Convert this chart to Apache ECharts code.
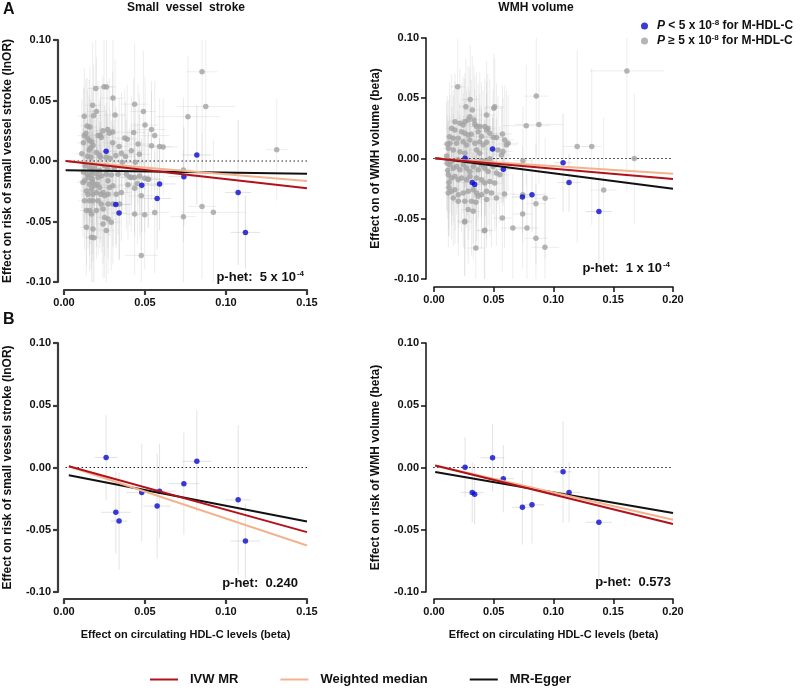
<!DOCTYPE html>
<html><head><meta charset="utf-8">
<script src="https://cdn.jsdelivr.net/npm/echarts@6/dist/echarts.min.js"></script>
<style>html,body{margin:0;padding:0;background:#fff}#c{width:800px;height:688px}</style>
</head><body><div id="c"></div>
<script>
// ---------- DATA: [x, y, xErr, yErr] ----------
const svsGray = [
[0.0196,0.060,0.005,0.045],[0.0247,0.0614,0.006,0.050],[0.0262,0.0612,0.006,0.040],[0.0302,0.052,0.007,0.048],
[0.0177,0.046,0.005,0.052],[0.0200,0.041,0.005,0.045],[0.0436,0.047,0.008,0.050],[0.0125,0.037,0.004,0.040],
[0.0183,0.0375,0.005,0.042],[0.0315,0.038,0.007,0.046],[0.0490,0.041,0.008,0.050],[0.0500,0.0297,0.008,0.040],
[0.0430,0.0236,0.007,0.045],[0.0540,0.026,0.009,0.040],[0.0560,0.021,0.009,0.045],[0.0590,0.012,0.008,0.040],
[0.0612,0.0115,0.009,0.040],[0.0540,0.0126,0.008,0.045],[0.0457,0.014,0.007,0.050],[0.0465,0.0055,0.007,0.050],
[0.0416,0.0085,0.007,0.045],[0.0375,0.019,0.006,0.040],[0.0390,0.018,0.006,0.045],[0.0240,0.025,0.005,0.045],
[0.0270,0.026,0.005,0.040],[0.0300,0.024,0.006,0.050],[0.0280,0.023,0.005,0.045],[0.0230,0.0195,0.005,0.040],
[0.0125,0.021,0.004,0.040],[0.0135,0.023,0.004,0.045],[0.0145,0.019,0.004,0.040],[0.0155,0.017,0.004,0.050],
[0.0120,0.015,0.004,0.045],[0.0142,0.029,0.004,0.040],[0.0160,0.028,0.004,0.050],[0.0210,0.021,0.005,0.045],
[0.0225,0.0215,0.005,0.040],[0.0170,0.016,0.004,0.045],[0.0180,0.013,0.005,0.050],[0.0165,0.011,0.004,0.040],
[0.0155,0.009,0.004,0.045],[0.0200,0.007,0.005,0.040],[0.0220,0.005,0.005,0.045],[0.0225,0.003,0.005,0.050],
[0.0165,0.003,0.004,0.045],[0.0145,0.004,0.004,0.040],[0.0110,0.006,0.004,0.045],[0.0300,0.015,0.006,0.045],
[0.0340,0.012,0.006,0.040],[0.0355,0.0065,0.006,0.050],[0.0380,0.0038,0.006,0.045],[0.0320,0.0045,0.006,0.040],
[0.0260,0.003,0.005,0.045],[0.0285,0.002,0.005,0.040],[0.0440,-0.001,0.007,0.045],[0.0360,-0.001,0.006,0.040],
[0.0160,-0.0055,0.004,0.045],[0.0175,-0.0082,0.004,0.050],[0.0189,-0.006,0.005,0.040],[0.0144,-0.011,0.004,0.045],
[0.0169,-0.0115,0.004,0.050],[0.0200,-0.0104,0.005,0.040],[0.0148,-0.0137,0.004,0.045],[0.0175,-0.0151,0.004,0.040],
[0.0210,-0.0137,0.005,0.050],[0.0230,-0.0123,0.005,0.045],[0.0261,-0.011,0.005,0.040],[0.0292,-0.0115,0.006,0.045],
[0.0333,-0.011,0.006,0.050],[0.0385,-0.011,0.006,0.045],[0.0405,-0.0132,0.007,0.040],[0.0436,-0.0137,0.007,0.045],
[0.0467,-0.0123,0.007,0.050],[0.0498,-0.0142,0.008,0.045],[0.0522,-0.0151,0.008,0.040],
[0.0130,-0.004,0.004,0.045],[0.0250,-0.004,0.005,0.050],[0.0310,-0.006,0.006,0.040],[0.0120,-0.009,0.004,0.045],
[0.0220,-0.008,0.005,0.040],[0.0270,-0.007,0.005,0.045],
[0.0117,-0.0178,0.004,0.045],[0.0127,-0.0164,0.004,0.040],[0.0158,-0.0192,0.004,0.050],[0.0179,-0.0178,0.004,0.045],
[0.0189,-0.0205,0.005,0.040],[0.0206,-0.0192,0.005,0.045],[0.0220,-0.0219,0.005,0.050],[0.0169,-0.0233,0.004,0.045],
[0.0138,-0.0247,0.004,0.040],[0.0148,-0.0274,0.004,0.045],[0.0179,-0.0274,0.004,0.050],[0.0200,-0.026,0.005,0.045],
[0.0226,-0.0274,0.005,0.040],[0.0241,-0.026,0.005,0.045],[0.0251,-0.0288,0.005,0.050],[0.0272,-0.0274,0.005,0.045],
[0.0282,-0.0219,0.006,0.040],[0.0272,-0.0164,0.005,0.045],[0.0302,-0.0205,0.006,0.050],[0.0323,-0.0274,0.006,0.045],
[0.0354,-0.026,0.006,0.040],[0.0343,-0.0356,0.006,0.045],[0.0302,-0.0356,0.006,0.050],[0.0272,-0.0356,0.005,0.045],
[0.0230,-0.0356,0.005,0.040],[0.0210,-0.0329,0.005,0.045],[0.0179,-0.0329,0.004,0.050],[0.0158,-0.0329,0.004,0.045],
[0.0127,-0.0329,0.004,0.040],[0.0138,-0.041,0.004,0.045],[0.0158,-0.041,0.004,0.050],[0.0169,-0.0438,0.004,0.045],
[0.0200,-0.041,0.005,0.040],[0.0241,-0.0397,0.005,0.045],[0.0251,-0.0466,0.005,0.050],[0.0272,-0.0479,0.005,0.045],
[0.0292,-0.0507,0.006,0.040],[0.0241,-0.052,0.005,0.045],[0.0261,-0.0575,0.005,0.050],[0.0179,-0.0562,0.004,0.045],
[0.0138,-0.0548,0.004,0.040],[0.0169,-0.063,0.004,0.045],[0.0185,-0.0635,0.005,0.050],
[0.0395,-0.0197,0.006,0.045],[0.0436,-0.0225,0.007,0.040],[0.0415,-0.0137,0.007,0.045],[0.0453,-0.0186,0.007,0.050],
[0.0477,-0.0288,0.008,0.045],[0.0436,-0.0438,0.007,0.050],[0.0498,-0.0444,0.008,0.045],[0.0560,-0.0425,0.009,0.050],
[0.0518,-0.0151,0.008,0.040],[0.0477,-0.0780,0.010,0.050],
[0.0852,0.0737,0.0095,0.080],[0.0875,0.045,0.018,0.060],[0.0765,0.0366,0.020,0.050],[0.1313,0.0093,0.0066,0.042],
[0.0737,-0.0074,0.006,0.060],[0.0852,-0.0375,0.0085,0.060],[0.0922,-0.0424,0.020,0.060],[0.0737,-0.046,0.008,0.055]
];
const svsBlue = [
[0.026,0.008,0.007,0.034],[0.032,-0.036,0.009,0.033],[0.034,-0.043,0.005,0.039],[0.048,-0.020,0.0095,0.039],
[0.0575,-0.031,0.0085,0.042],[0.059,-0.019,0.010,0.038],[0.074,-0.013,0.0095,0.041],[0.082,0.005,0.009,0.041],
[0.1075,-0.026,0.008,0.060],[0.112,-0.059,0.009,0.030]
];
const wmhGray = [
[0.0198,0.0595,0.006,0.040],[0.0303,0.049,0.007,0.045],[0.0267,0.043,0.006,0.040],[0.0320,0.0403,0.007,0.045],
[0.0500,0.0418,0.008,0.045],[0.0508,0.043,0.008,0.040],[0.0440,0.0361,0.007,0.045],[0.0300,0.0347,0.006,0.040],
[0.0286,0.032,0.006,0.045],[0.0258,0.0306,0.006,0.040],[0.0217,0.0292,0.005,0.045],[0.0244,0.0278,0.005,0.040],
[0.0334,0.032,0.006,0.045],[0.0342,0.0284,0.006,0.040],[0.0356,0.0265,0.006,0.045],[0.0175,0.0306,0.005,0.040],
[0.0147,0.0251,0.005,0.045],[0.0175,0.0237,0.005,0.040],[0.0383,0.0265,0.007,0.045],[0.0425,0.0265,0.007,0.040],
[0.0450,0.0251,0.007,0.045],[0.0231,0.0223,0.005,0.040],[0.0258,0.0209,0.005,0.045],[0.0286,0.0196,0.006,0.040],
[0.0311,0.0202,0.006,0.045],[0.0370,0.0223,0.006,0.040],[0.0397,0.0182,0.007,0.045],[0.0440,0.0237,0.007,0.040],
[0.0467,0.0209,0.007,0.045],[0.0573,0.0204,0.008,0.040],[0.0522,0.0174,0.008,0.045],[0.0495,0.0177,0.008,0.040],
[0.0592,0.0154,0.008,0.045],[0.0620,0.0127,0.009,0.040],[0.0606,0.0113,0.009,0.045],[0.0161,0.0168,0.005,0.040],
[0.0203,0.0168,0.005,0.045],[0.0134,0.0127,0.004,0.040],[0.0189,0.0127,0.005,0.045],[0.0244,0.014,0.005,0.040],
[0.0272,0.0113,0.006,0.045],[0.0300,0.0154,0.006,0.040],[0.0342,0.0127,0.006,0.045],[0.0383,0.014,0.007,0.040],
[0.0411,0.0113,0.007,0.045],[0.0440,0.0135,0.007,0.040],[0.0356,0.0071,0.006,0.045],[0.0383,0.0044,0.007,0.040],
[0.0536,0.0071,0.008,0.045],[0.0564,0.003,0.008,0.040],[0.0578,0.0057,0.008,0.045],[0.0217,0.0057,0.005,0.040],
[0.0161,0.0071,0.005,0.045],[0.0120,0.0085,0.004,0.040],[0.0258,0.0044,0.005,0.045],
[0.0772,0.0272,0.020,0.050],[0.0878,0.0283,0.020,0.050],[0.0856,0.0518,0.0097,0.050],[0.0744,-0.0019,0.008,0.045],
[0.0467,-0.0003,0.007,0.040],[0.0397,-0.0017,0.007,0.045],
[0.1198,0.0099,0.012,0.080],[0.1320,0.0099,0.008,0.065],[0.1614,0.0727,0.031,0.100],[0.1676,0.0000,0.005,0.054],
[0.1420,-0.0262,0.011,0.060],[0.0742,-0.0300,0.008,0.040],[0.0742,-0.0460,0.008,0.045],[0.0853,-0.0375,0.008,0.050],
[0.0930,-0.0330,0.009,0.050],[0.0778,-0.0577,0.010,0.045],[0.0660,-0.0577,0.010,0.045],[0.0572,-0.0494,0.008,0.045],
[0.0422,-0.0600,0.007,0.045],[0.0853,-0.0662,0.010,0.045],[0.0928,-0.0737,0.012,0.045],[0.0350,-0.0742,0.007,0.045],
[0.0256,-0.0527,0.006,0.045],
[0.0133,-0.0052,0.004,0.040],[0.0161,-0.008,0.005,0.045],[0.0189,-0.0066,0.005,0.040],[0.0217,-0.0093,0.005,0.045],
[0.0245,-0.0052,0.005,0.040],[0.0272,-0.008,0.006,0.045],[0.0300,-0.0107,0.006,0.040],[0.0328,-0.0066,0.006,0.045],
[0.0370,-0.0093,0.006,0.040],[0.0397,-0.0052,0.007,0.045],[0.0425,-0.008,0.007,0.040],[0.0453,-0.0107,0.007,0.045],
[0.0495,-0.0066,0.008,0.040],[0.0522,-0.012,0.008,0.045],[0.0550,-0.0135,0.008,0.040],
[0.0120,-0.0135,0.004,0.045],[0.0147,-0.0162,0.004,0.040],[0.0175,-0.0149,0.005,0.045],[0.0203,-0.0176,0.005,0.040],
[0.0231,-0.0162,0.005,0.045],[0.0272,-0.0176,0.006,0.040],[0.0300,-0.0149,0.006,0.045],[0.0356,-0.0162,0.006,0.040],
[0.0397,-0.0176,0.007,0.045],[0.0425,-0.0204,0.007,0.040],[0.0467,-0.019,0.007,0.045],[0.0508,-0.0204,0.008,0.040],
[0.0120,-0.0286,0.004,0.045],[0.0147,-0.0272,0.004,0.040],[0.0175,-0.0259,0.005,0.045],[0.0203,-0.030,0.005,0.040],
[0.0245,-0.0286,0.005,0.045],[0.0286,-0.0272,0.006,0.040],[0.0328,-0.0259,0.006,0.045],[0.0356,-0.0286,0.006,0.040],
[0.0397,-0.030,0.007,0.045],[0.0440,-0.0272,0.007,0.040],[0.0481,-0.0286,0.008,0.045],[0.0522,-0.0327,0.008,0.040],
[0.0590,-0.0295,0.009,0.045],
[0.0161,-0.0327,0.005,0.040],[0.0203,-0.0355,0.005,0.045],[0.0258,-0.0355,0.005,0.040],[0.0314,-0.0355,0.006,0.045],
[0.0350,-0.0363,0.006,0.040],[0.0370,-0.0314,0.006,0.045],[0.0440,-0.0341,0.007,0.040],
[0.0286,-0.0424,0.006,0.045],[0.0328,-0.0438,0.006,0.040],[0.0258,-0.052,0.006,0.045],[0.0425,-0.0595,0.007,0.045],
[0.0150,-0.002,0.004,0.045],[0.0200,-0.001,0.005,0.040],[0.0280,-0.002,0.006,0.045],[0.0350,-0.003,0.006,0.040],
[0.0430,-0.002,0.007,0.045],[0.0110,-0.004,0.004,0.040],[0.0106,0.002,0.004,0.045],[0.0115,-0.010,0.004,0.040],
[0.0125,-0.020,0.004,0.045],[0.0110,0.012,0.004,0.040],[0.0130,0.018,0.004,0.045],[0.0125,-0.024,0.004,0.040]
];
const wmhBlue = [
[0.026,0.0003,0.004,0.024],[0.032,-0.020,0.0097,0.024],[0.034,-0.0215,0.005,0.024],[0.049,0.0078,0.010,0.027],
[0.058,-0.009,0.009,0.027],[0.074,-0.032,0.009,0.030],[0.082,-0.030,0.010,0.031],[0.108,-0.0035,0.0074,0.041],
[0.113,-0.020,0.0095,0.024],[0.138,-0.044,0.011,0.045]
];
// regression lines (start, end)
const aSvsIvw = [[0.001,0],[0.15,-0.0225]], aSvsWm = [[0.001,0],[0.15,-0.0166]], aSvsEgger = [[0.001,-0.0077],[0.15,-0.0105]];
const aWmhIvw = [[0.001,0],[0.2,-0.0171]], aWmhWm = [[0.001,0],[0.2,-0.0127]], aWmhEgger = [[0.001,0.0005],[0.2,-0.0251]];
const bSvsIvw = [[0.003,0.001],[0.15,-0.0519]], bSvsWm = [[0.003,0.001],[0.15,-0.0627]], bSvsEgger = [[0.003,-0.0062],[0.15,-0.0434]];
const bWmhIvw = [[0.001,0.0016],[0.2,-0.0454]], bWmhWm = [[0.001,0.0016],[0.2,-0.0419]], bWmhEgger = [[0.001,-0.0037],[0.2,-0.0366]];
const xMax = [0.15, 0.2, 0.15, 0.2];
const yTicks = [-0.10, -0.05, 0.00, 0.05, 0.10];
const panelTitles = ['Small  vessel  stroke', 'WMH volume'];
const yNames = ['Effect on risk of small vessel stroke (lnOR)', 'Effect on of WMH volume (beta)',
                'Effect on risk of small vessel stroke (lnOR)', 'Effect on risk of WMH volume (beta)'];
const xName = 'Effect on circulating HDL-C levels (beta)';
const pHet = [['5 x 10', '-4'], ['1 x 10', '-4'], ['0.240', ''], ['0.573', '']];

// ---------- CHART ----------
const FONT = '"Liberation Sans", Arial, Helvetica, sans-serif';
const RED = '#b3121b', ORANGE = '#f2b48e', BLACK = '#111111', BLUE = '#0a0ad0', GRAY = '#a2a2a2';
const grids = [
  {left:64, top:40, width:243, height:242},
  {left:434, top:38, width:239, height:241},
  {left:64, top:343, width:243, height:249},
  {left:434, top:343, width:239, height:249}
];
const yOff = [6, 8, 6, 8], xOff = [8, 8, 7, 7];
const axisCol = ['#3c3c3c', '#111', '#3c3c3c', '#111'];
const axisW = [2.2, 1.5, 2.2, 1.5];
const fmt = v => (Math.abs(v) < 1e-9 ? 0 : v).toFixed(2);

const xAxes = grids.map((g, i) => ({
  type:'value', gridIndex:i, min:0, max:xMax[i], interval:0.05, offset:xOff[i],
  axisLine:{show:true, onZero:false, lineStyle:{color:axisCol[i], width:axisW[i]}},
  axisTick:{show:true, length:5, lineStyle:{color:axisCol[i], width:axisW[i]}},
  splitLine:{show:false},
  axisLabel:{formatter:fmt, fontFamily:FONT, fontWeight:'bold', fontSize:11, color:'#111', margin:7},
  name: i >= 2 ? xName : '', nameLocation:'middle', nameGap:30,
  nameTextStyle:{fontFamily:FONT, fontWeight:'bold', fontSize:11, color:'#111'}
}));
const yAxes = grids.map((g, i) => ({
  type:'value', gridIndex:i, min:-0.1, max:0.1, interval:0.05, offset:yOff[i],
  axisLine:{show:true, onZero:false, lineStyle:{color:axisCol[i], width:axisW[i]}},
  axisTick:{show:true, length:5, lineStyle:{color:axisCol[i], width:axisW[i]}},
  splitLine:{show:false},
  axisLabel:{formatter:fmt, fontFamily:FONT, fontWeight:'bold', fontSize:11, color:'#111', margin:7},
  name: yNames[i], nameLocation:'middle', nameGap:44, nameRotate:90,
  nameTextStyle:{fontFamily:FONT, fontWeight:'bold', fontSize:12, color:'#111'}
}));

function errSeries(data, i, color) {
  return {
    type:'custom', xAxisIndex:i, yAxisIndex:i, data, clip:true, z:1, silent:true,
    encode:{x:0, y:1},
    renderItem(params, api) {
      const x = api.value(0), y = api.value(1), xe = api.value(2), ye = api.value(3);
      const a = api.coord([x - xe, y]), b = api.coord([x + xe, y]);
      const c = api.coord([x, y - ye]), d = api.coord([x, y + ye]);
      const style = {stroke:color, lineWidth:1, fill:null};
      return {type:'group', children:[
        {type:'line', shape:{x1:a[0], y1:a[1], x2:b[0], y2:b[1]}, style},
        {type:'line', shape:{x1:c[0], y1:c[1], x2:d[0], y2:d[1]}, style}
      ]};
    }
  };
}
function pts(data, i, name, color) {
  return {type:'scatter', name, xAxisIndex:i, yAxisIndex:i, data:data.map(d => [d[0], d[1]]),
    symbol:'circle', symbolSize:5.5, itemStyle:{color}, z:3, silent:true};
}
function reg(data, i, name, color) {
  return {type:'line', name, xAxisIndex:i, yAxisIndex:i, data, showSymbol:false, symbol:'none',
    color, lineStyle:{color, width:2}, z:5, silent:true, clip:false};
}
function zero(i) {
  return {type:'line', xAxisIndex:i, yAxisIndex:i, data:[[-0.004, 0], [xMax[i], 0]], showSymbol:false,
    symbol:'none', lineStyle:{color:'#222', width:1, type:[1.5, 2.5]}, z:2, silent:true, clip:false};
}

const regs = [
  [aSvsIvw, aSvsWm, aSvsEgger], [aWmhIvw, aWmhWm, aWmhEgger],
  [bSvsIvw, bSvsWm, bSvsEgger], [bWmhIvw, bWmhWm, bWmhEgger]
];
const grays = [svsGray, wmhGray, null, null];
const blues = [svsBlue, wmhBlue, svsBlue, wmhBlue];

const series = [];
grids.forEach((g, i) => {
  if (grays[i]) series.push(errSeries(grays[i], i, 'rgba(185,185,185,0.26)'));
  series.push(errSeries(blues[i], i, 'rgba(185,185,185,0.4)'));
  series.push(zero(i));
  if (grays[i]) series.push(pts(grays[i], i, 'nonsig', GRAY));
  series.push(pts(blues[i], i, 'sig', BLUE));
  series.push(reg(regs[i][2], i, 'MR-Egger', BLACK));
  series.push(reg(regs[i][1], i, 'Weighted median', ORANGE));
  series.push(reg(regs[i][0], i, 'IVW MR', RED));
});

const txt = (x, y, text, size, align, extra) => ({
  type:'text', x, y, silent:true,
  style:Object.assign({text, fontFamily:FONT, fontWeight:'bold', fontSize:size, fill:'#111',
    align:align || 'left', verticalAlign:'middle'}, extra || {})
});
const supRich = {
  b:{fontFamily:FONT, fontWeight:'bold', fontSize:13, fill:'#111'},
  s:{fontFamily:FONT, fontWeight:'bold', fontSize:8, fill:'#111', padding:[0,0,7,1]}
};
const pPos = [[304, 277], [670, 268], [298, 583], [671, 582]];
const graphic = [
  txt(3, 10, 'A', 16), txt(3, 320, 'B', 16),
  txt(186, 8, panelTitles[0], 12, 'center'),
  txt(536, 8, panelTitles[1], 12, 'center')
];
pHet.forEach((p, i) => {
  graphic.push({type:'text', x:pPos[i][0], y:pPos[i][1], silent:true,
    style:{text:'{b|p-het:  ' + p[0] + '}' + (p[1] ? '{s|' + p[1] + '}' : ''), rich:supRich,
      align:'right', verticalAlign:'middle', fontFamily:FONT, fontWeight:'bold', fontSize:13}});
});

const option = {
  animation:false,
  backgroundColor:'#ffffff',
  grid:grids.map(g => Object.assign({containLabel:false}, g)),
  xAxis:xAxes, yAxis:yAxes, series, graphic,
  legend:[
    {data:['sig', 'nonsig'], orient:'vertical', left:636, top:14, itemWidth:7, itemHeight:7, icon:'circle',
     itemGap:2, selectedMode:false,
     formatter:n => n === 'sig' ? '{i|P} < 5 x 10{s|-8} for M-HDL-C' : '{i|P} ≥ 5 x 10{s|-8} for M-HDL-C',
     textStyle:{fontFamily:FONT, fontWeight:'bold', fontSize:12, color:'#111', padding:[0,0,0,4],
       rich:{i:{fontFamily:FONT, fontStyle:'italic', fontWeight:'bold', fontSize:12, color:'#111'},
             s:{fontFamily:FONT, fontWeight:'bold', fontSize:8, color:'#111', padding:[0,0,6,0]}}}},
    {data:['IVW MR', 'Weighted median', 'MR-Egger'], orient:'horizontal', left:145, top:668,
     itemWidth:28, itemHeight:2, icon:'rect', itemGap:42, selectedMode:false,
     textStyle:{fontFamily:FONT, fontWeight:'bold', fontSize:13, color:'#111', padding:[0,0,0,7]}}
  ]
};
const chart = echarts.init(document.getElementById('c'), null, {renderer:'canvas'});
chart.setOption(option);
</script>
</body></html>
